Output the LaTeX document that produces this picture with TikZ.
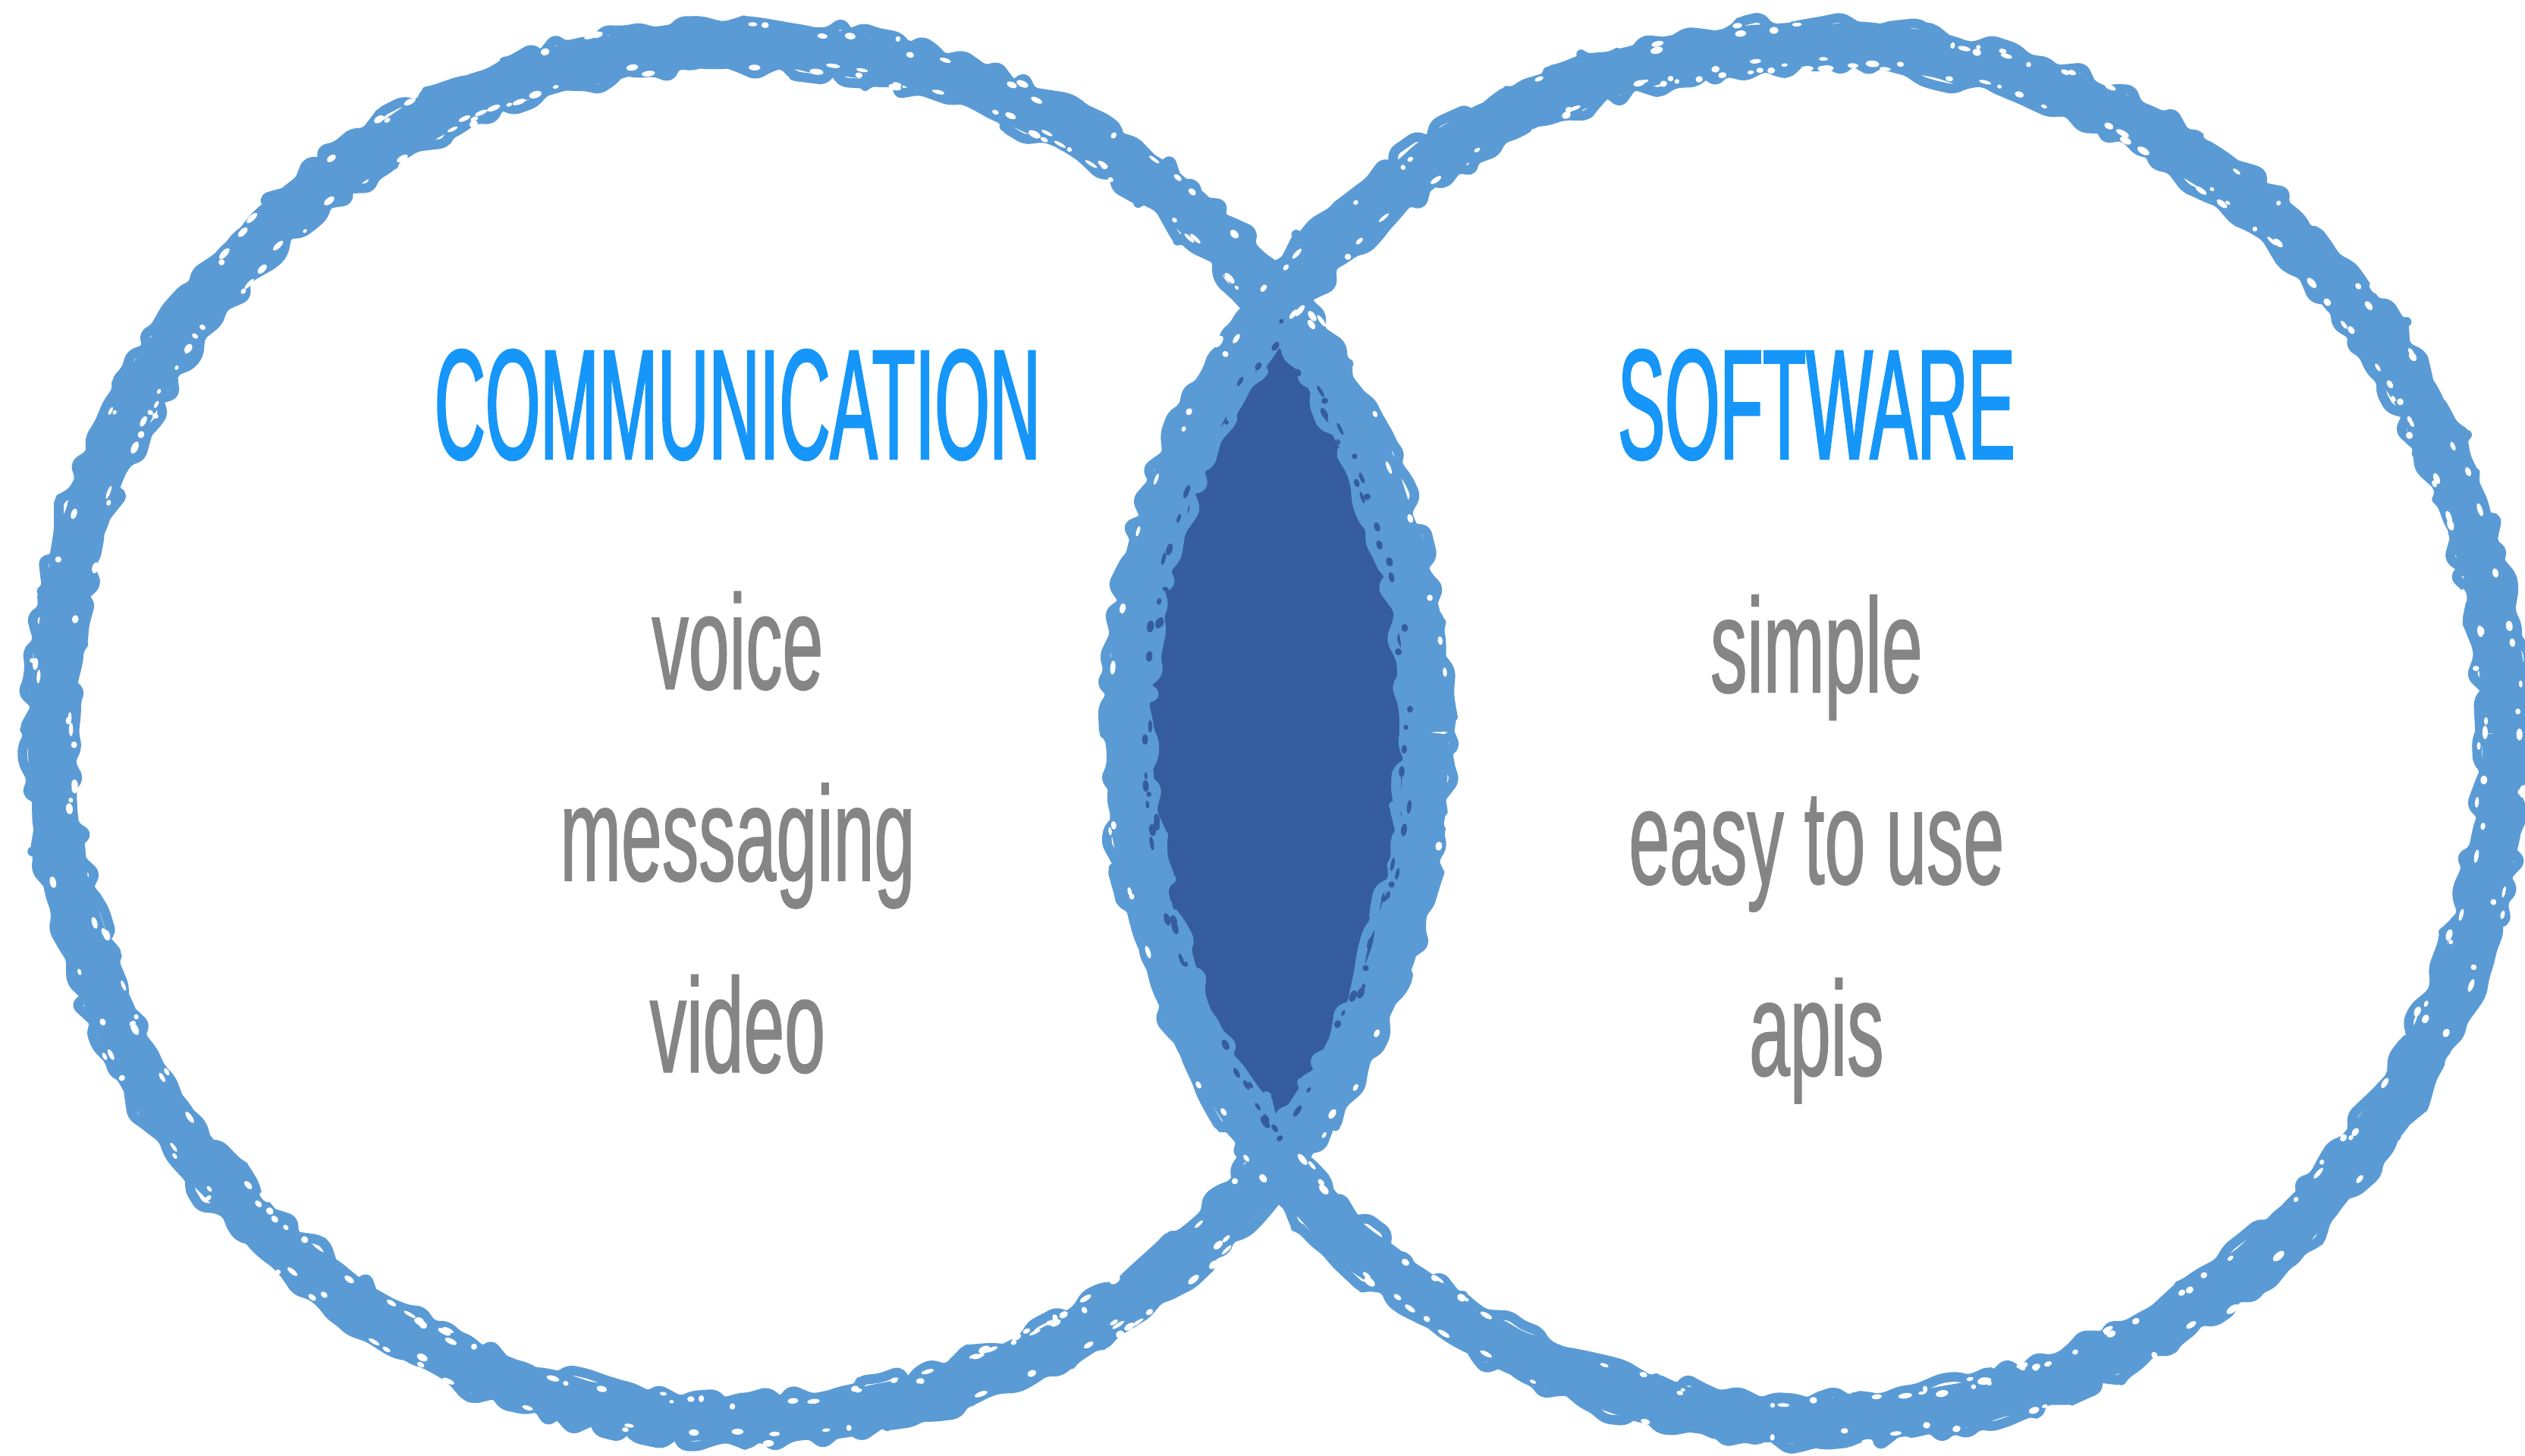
\documentclass[tikz,border=0pt]{standalone}
\usepackage{fontspec}
\setmainfont{Liberation Sans}
\newfontfamily\headfont[FakeStretch=0.45, FakeBold=1.2]{Liberation Sans}
\newfontfamily\itemfont[FakeStretch=0.545, FakeBold=0.8]{Liberation Sans}
\usepackage{tikz}
\usetikzlibrary{decorations.pathmorphing, positioning}
\usepackage{xcolor}
\definecolor{ringblue}{HTML}{5B9BD5}
\definecolor{lensblue}{HTML}{355D9D}
\definecolor{headblue}{HTML}{1596F8}
\definecolor{itemgray}{HTML}{858585}

\begin{document}
\begin{tikzpicture}[
    brush/.style={draw=ringblue, line width=#1, line join=round, rounded corners=1.5pt, decorate,
      decoration={random steps, segment length=4pt, amplitude=0.5pt}},
    edge/.style={draw=ringblue, line width=#1, line join=round, rounded corners=1pt, decorate,
      decoration={random steps, segment length=2.5pt, amplitude=1.4pt}},
    head/.style={font=\headfont\fontsize{27.7}{30}\selectfont, text=headblue, inner sep=0pt, anchor=base},
    item/.style={font=\itemfont\fontsize{23.8}{26}\selectfont, text=itemgray, inner sep=0pt, anchor=base}
  ]
    \pgfmathsetseed{12}
    \useasboundingbox (0,0) rectangle (15.68,9.04);
    \coordinate (L) at (4.59,4.49);
    \coordinate (R) at (11.27,4.49);
    % Overlap
    \begin{scope}
      \clip (L) circle (4.27);
      \fill[lensblue] (R) circle (4.27);
    \end{scope}
    % Rings with brush holes
    \foreach \c/\cx in {L/4.59, R/11.27} {
      \draw[brush=0.28cm] (\c) circle (4.27);
      \draw[edge=0.06cm] (\c) circle (4.41);
      \draw[edge=0.06cm] (\c) circle (4.13);
      \foreach \k in {1,...,260} {
        \pgfmathsetmacro\a{360*rnd}
        \pgfmathsetmacro\rr{\k<170 ? 4.12+0.07*rnd : 4.34+0.09*rnd}
        \pgfmathsetmacro\px{\cx+\rr*cos(\a)}
        \pgfmathsetmacro\py{4.49+\rr*sin(\a)}
        \pgfmathtruncatemacro\inlens{and(veclen(\px-4.59,\py-4.49)<4.25, veclen(\px-11.27,\py-4.49)<4.25)}
        \ifnum\inlens=1 \def\sc{lensblue}\else\def\sc{white}\fi
        \fill[\sc, rotate around={\a:(\px,\py)}] (\px,\py) ellipse ({0.01+0.012*rnd} and {0.014+0.03*rnd});
      }
    }
    % Headings
    \node[head] (comm) at (4.58,6.19) {COMMUNICATION};
    \node[head] (soft) at (11.28,6.19) {SOFTWARE};
    % Items
    \foreach \t [count=\i] in {voice, messaging, video} {
      \node[item] (comm\i) at (4.58,{4.76-1.19*(\i-1)}) {\t};
    }
    \foreach \t [count=\i] in {simple, easy to use, apis} {
      \node[item] (soft\i) at (11.28,{4.74-1.19*(\i-1)}) {\t};
    }
  \end{tikzpicture}
\end{document}
